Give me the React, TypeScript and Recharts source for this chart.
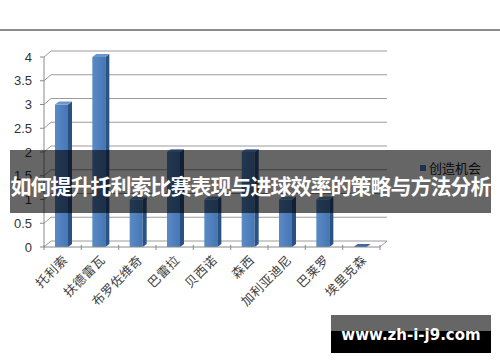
import { BarChart, Bar, XAxis, YAxis, CartesianGrid } from "recharts";

const players = [
  "托利索",
  "扶德雷瓦",
  "布罗佐维奇",
  "巴雷拉",
  "贝西诺",
  "森西",
  "加利亚迪尼",
  "巴莱罗",
  "埃里克森",
];
const chances = [3, 4, 1, 2, 1, 2, 1, 1, 0];
const yTicks = [0, 0.5, 1, 1.5, 2, 2.5, 3, 3.5, 4];
const seriesName = "创造机会";
const title = "如何提升托利索比赛表现与进球效率的策略与方法分析";
const siteUrl = "www.zh-i-j9.com";

const data = players.map((name, i) => ({ name, value: chances[i] }));

const W = 500;
const H = 362;
const PLOT_LEFT = 44;
const PLOT_RIGHT = 380;
const BAND = (PLOT_RIGHT - PLOT_LEFT) / players.length;
// depth of the back wall / floor
const WALL_DX = 7;
const WALL_DY = 6;

// 3D-style column: front face, dark right side and light top
const Column = (props: any) => {
  const { x, y, width, height } = props;
  const d = 4;
  const dy = 3;
  const bx = x - 1;
  const h = Math.max(0, height);
  return (
    <g>
      {h > 0 && (
        <>
          <rect x={bx} y={y} width={width} height={h} fill="url(#colFront)" />
          <path
            d={`M${bx + width},${y} L${bx + width + d},${y - dy} L${bx + width + d},${y + h - dy} L${bx + width},${y + h} Z`}
            fill="#2b5283"
          />
        </>
      )}
      <path
        d={`M${bx},${y} L${bx + d},${y - dy} L${bx + width + d},${y - dy} L${bx + width},${y} Z`}
        fill={h > 0 ? "#6d97cc" : "#3d6aa3"}
      />
    </g>
  );
};

const GridLine = (props: any) => {
  const { x1, y1, x2, index } = props;
  const isFloor = index === 0;
  const d = isFloor
    ? `M${x1},${y1} L${x1 + WALL_DX},${y1 - WALL_DY} L${x2 + WALL_DX},${y1 - WALL_DY} L${x2},${y1}`
    : `M${x1},${y1} L${x1 + WALL_DX},${y1 - WALL_DY} L${x2 + WALL_DX},${y1 - WALL_DY}`;
  return <path key={`g-${index}`} d={d} stroke="#9a9a9a" strokeWidth={1} fill="none" />;
};

const CategoryTick = (props: any) => {
  const { x, y, payload, index } = props;
  const left = x - BAND / 2;
  return (
    <g>
      <line x1={left} y1={y - 8} x2={left} y2={y - 3} stroke="#8a8a8a" />
      {index === players.length - 1 && (
        <line x1={x + BAND / 2} y1={y - 8} x2={x + BAND / 2} y2={y - 3} stroke="#8a8a8a" />
      )}
      <text
        x={x + 2}
        y={y + 4}
        transform={`rotate(-45, ${x + 2}, ${y + 4})`}
        textAnchor="end"
        dominantBaseline="central"
        fontFamily="'Noto Sans CJK SC', sans-serif"
        fontSize={12.5}
        letterSpacing={0.5}
        fill="#404040"
      >
        {payload.value}
      </text>
    </g>
  );
};

export default function App() {
  return (
    <div
      style={{
        position: "fixed",
        left: 0,
        top: 0,
        width: W,
        height: H,
        background: "#fff",
        overflow: "hidden",
      }}
    >
      <div
        style={{ position: "absolute", left: 0, top: 29, width: W, height: 2, background: "#8c8c8c" }}
      />
      <BarChart
        width={W}
        height={H}
        data={data}
        margin={{ top: 57, right: W - PLOT_RIGHT, left: 4, bottom: 55 }}
        barSize={13}
      >
        <defs>
          <linearGradient id="colFront" x1="0" y1="0" x2="1" y2="0">
            <stop offset="0%" stopColor="#5a8ac6" />
            <stop offset="100%" stopColor="#4677b5" />
          </linearGradient>
        </defs>
        <CartesianGrid vertical={false} horizontal={GridLine as any} />
        <XAxis
          dataKey="name"
          interval={0}
          height={60}
          axisLine={{ stroke: "#8a8a8a" }}
          tickLine={false}
          tick={<CategoryTick />}
          tickMargin={0}
        />
        <YAxis
          width={40}
          domain={[0, 4]}
          ticks={yTicks}
          interval={0}
          axisLine={{ stroke: "#8a8a8a" }}
          tickLine={{ stroke: "#8a8a8a" }}
          tickSize={4}
          tickMargin={8}
          tick={{ fontFamily: "'Liberation Sans', Arial, sans-serif", fontSize: 13, fill: "#333" }}
        />
        <Bar dataKey="value" name={seriesName} shape={<Column />} isAnimationActive={false} />
      </BarChart>

      {/* series legend */}
      <div
        style={{
          position: "absolute",
          left: 420,
          top: 158,
          display: "flex",
          alignItems: "center",
          fontFamily: "'Noto Sans CJK SC', sans-serif",
          fontSize: 13,
          color: "#222",
          whiteSpace: "nowrap",
        }}
      >
        <span
          style={{ width: 6, height: 6, background: "#4a7ebb", marginRight: 3, display: "inline-block" }}
        />
        {seriesName}
      </div>

      {/* title band */}
      <div
        style={{
          position: "absolute",
          left: 10,
          top: 150,
          width: 481,
          height: 63,
          background: "rgba(0,0,0,0.6)",
          display: "flex",
          alignItems: "center",
          justifyContent: "center",
        }}
      >
        <span
          style={{
            color: "#fff",
            fontFamily: "'Noto Sans CJK SC', sans-serif",
            fontWeight: 700,
            fontSize: 21,
            letterSpacing: -1,
            whiteSpace: "nowrap",
            marginTop: 6,
          }}
        >
          {title}
        </span>
      </div>

      {/* site badge */}
      <div style={{ position: "absolute", left: 331, top: 315, width: 160, height: 16, background: "#666" }} />
      <div
        style={{
          position: "absolute",
          left: 331,
          top: 331,
          width: 160,
          height: 22,
          background: "#000",
        }}
      />
      <div
        style={{
          position: "absolute",
          left: 331,
          top: 323,
          width: 160,
          height: 24,
          display: "flex",
          alignItems: "center",
          justifyContent: "center",
          color: "#fff",
          fontFamily: "'DejaVu Sans', Verdana, sans-serif",
          fontWeight: 700,
          fontSize: 15,
          whiteSpace: "nowrap",
        }}
      >
        {siteUrl}
      </div>
    </div>
  );
}
